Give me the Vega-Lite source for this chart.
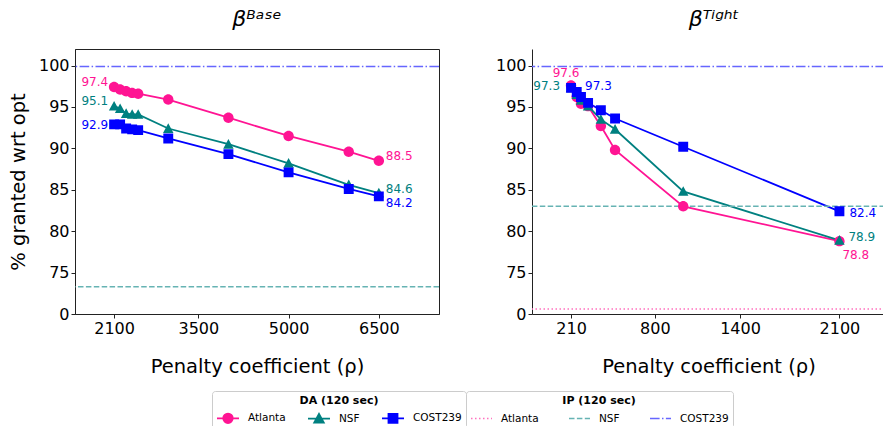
{
  "$schema": "https://vega.github.io/schema/vega-lite/v6.json",
  "padding": {"left": 7, "top": 7, "right": 0, "bottom": 0},
  "background": "white",
  "datasets": {
    "da": [
      {"panel": "Base", "network": "Atlanta", "rho": 2100, "value": 97.4},
      {"panel": "Base", "network": "Atlanta", "rho": 2200, "value": 97.1},
      {"panel": "Base", "network": "Atlanta", "rho": 2300, "value": 96.9},
      {"panel": "Base", "network": "Atlanta", "rho": 2400, "value": 96.7},
      {"panel": "Base", "network": "Atlanta", "rho": 2500, "value": 96.6},
      {"panel": "Base", "network": "Atlanta", "rho": 3000, "value": 95.9},
      {"panel": "Base", "network": "Atlanta", "rho": 4000, "value": 93.7},
      {"panel": "Base", "network": "Atlanta", "rho": 5000, "value": 91.5},
      {"panel": "Base", "network": "Atlanta", "rho": 6000, "value": 89.6},
      {"panel": "Base", "network": "Atlanta", "rho": 6500, "value": 88.5},
      {"panel": "Base", "network": "NSF", "rho": 2100, "value": 95.1},
      {"panel": "Base", "network": "NSF", "rho": 2200, "value": 94.8},
      {"panel": "Base", "network": "NSF", "rho": 2300, "value": 94.2},
      {"panel": "Base", "network": "NSF", "rho": 2400, "value": 94.1},
      {"panel": "Base", "network": "NSF", "rho": 2500, "value": 94.1},
      {"panel": "Base", "network": "NSF", "rho": 3000, "value": 92.4},
      {"panel": "Base", "network": "NSF", "rho": 4000, "value": 90.5},
      {"panel": "Base", "network": "NSF", "rho": 5000, "value": 88.2},
      {"panel": "Base", "network": "NSF", "rho": 6000, "value": 85.6},
      {"panel": "Base", "network": "NSF", "rho": 6500, "value": 84.6},
      {"panel": "Base", "network": "COST239", "rho": 2100, "value": 92.9},
      {"panel": "Base", "network": "COST239", "rho": 2200, "value": 92.9},
      {"panel": "Base", "network": "COST239", "rho": 2300, "value": 92.4},
      {"panel": "Base", "network": "COST239", "rho": 2400, "value": 92.3},
      {"panel": "Base", "network": "COST239", "rho": 2500, "value": 92.2},
      {"panel": "Base", "network": "COST239", "rho": 3000, "value": 91.2},
      {"panel": "Base", "network": "COST239", "rho": 4000, "value": 89.3},
      {"panel": "Base", "network": "COST239", "rho": 5000, "value": 87.1},
      {"panel": "Base", "network": "COST239", "rho": 6000, "value": 85.1},
      {"panel": "Base", "network": "COST239", "rho": 6500, "value": 84.2},
      {"panel": "Tight", "network": "Atlanta", "rho": 210, "value": 97.6},
      {"panel": "Tight", "network": "Atlanta", "rho": 250, "value": 96.2},
      {"panel": "Tight", "network": "Atlanta", "rho": 280, "value": 95.4},
      {"panel": "Tight", "network": "Atlanta", "rho": 330, "value": 95.1},
      {"panel": "Tight", "network": "Atlanta", "rho": 420, "value": 92.7},
      {"panel": "Tight", "network": "Atlanta", "rho": 520, "value": 89.8},
      {"panel": "Tight", "network": "Atlanta", "rho": 1000, "value": 83.0},
      {"panel": "Tight", "network": "Atlanta", "rho": 2100, "value": 78.8},
      {"panel": "Tight", "network": "NSF", "rho": 210, "value": 97.3},
      {"panel": "Tight", "network": "NSF", "rho": 250, "value": 96.5},
      {"panel": "Tight", "network": "NSF", "rho": 280, "value": 95.8},
      {"panel": "Tight", "network": "NSF", "rho": 330, "value": 95.1},
      {"panel": "Tight", "network": "NSF", "rho": 420, "value": 93.5},
      {"panel": "Tight", "network": "NSF", "rho": 520, "value": 92.3},
      {"panel": "Tight", "network": "NSF", "rho": 1000, "value": 84.8},
      {"panel": "Tight", "network": "NSF", "rho": 2100, "value": 78.9},
      {"panel": "Tight", "network": "COST239", "rho": 210, "value": 97.3},
      {"panel": "Tight", "network": "COST239", "rho": 250, "value": 96.8},
      {"panel": "Tight", "network": "COST239", "rho": 280, "value": 96.2},
      {"panel": "Tight", "network": "COST239", "rho": 330, "value": 95.5},
      {"panel": "Tight", "network": "COST239", "rho": 420, "value": 94.6},
      {"panel": "Tight", "network": "COST239", "rho": 520, "value": 93.6},
      {"panel": "Tight", "network": "COST239", "rho": 1000, "value": 90.2},
      {"panel": "Tight", "network": "COST239", "rho": 2100, "value": 82.4}
    ],
    "ip": [
      {"panel": "Base", "ip_network": "NSF", "value": 73.3},
      {"panel": "Base", "ip_network": "COST239", "value": 99.9},
      {"panel": "Tight", "ip_network": "Atlanta", "value": 70.6},
      {"panel": "Tight", "ip_network": "NSF", "value": 83.0},
      {"panel": "Tight", "ip_network": "COST239", "value": 99.9}
    ]
  },
  "config": {
    "font": "DejaVu Sans",
    "view": {"stroke": "#222", "strokeWidth": 1},
    "axis": {"labelFontSize": 16, "titleFontSize": 19.5, "titleFontWeight": "normal", "labelColor": "#000", "titleColor": "#000", "tickColor": "#222", "domainColor": "#222", "grid": false, "tickSize": 4, "labelPadding": 2},
    "title": {"fontSize": 22, "fontWeight": "normal", "fontStyle": "italic", "color": "#000"},
    "legend": {"titleFontSize": 11, "titleFontWeight": "bold", "titleColor": "#000", "titlePadding": 6, "titleAnchor": "middle", "labelFontSize": 10.5, "labelColor": "#000", "strokeColor": "#ccc", "cornerRadius": 3, "padding": 4, "fillColor": "white", "columnPadding": 20, "direction": "horizontal"}
  },
  "spacing": 54,
  "resolve": {"scale": {"color": "shared", "shape": "shared", "stroke": "shared", "strokeDash": "shared"}},
  "hconcat": [
    {
      "width": 364,
      "height": 265,
      "title": {"text": "βᴮᵃˢᵉ", "frame": "group", "anchor": "middle", "baseline": "alphabetic", "offset": 1},
      "layer": [
        {
          "data": {"name": "da"},
          "transform": [{"filter": "datum.panel == 'Base'"}],
          "mark": {"type": "line", "strokeWidth": 1.8},
          "encoding": {
            "x": {"field": "rho", "type": "quantitative", "scale": {"domain": [1450, 7500], "nice": false, "zero": false},
              "axis": {"values": [2100, 3500, 5000, 6500], "title": "Penalty coefficient (ρ)", "titlePadding": 21, "format": "d"}},
            "y": {"field": "value", "type": "quantitative", "scale": {"domain": [70, 102], "nice": false, "zero": false},
              "axis": {"values": [70, 75, 80, 85, 90, 95, 100], "labelExpr": "datum.value == 70 ? '0' : datum.label", "title": "% granted wrt opt", "titlePadding": 10}},
            "color": {"field": "network", "type": "nominal", "scale": {"domain": ["Atlanta", "NSF", "COST239"], "range": ["#FF1493", "#008080", "#0000FF"]},
              "legend": {"title": "DA (120 sec)", "orient": "none", "legendX": 137, "legendY": 342, "labelOffset": 14, "symbolSize": 100, "symbolOffset": 6, "columnPadding": 18,
                "encode": {"symbols": {"update": {"stroke": {"scale": "color", "field": "value"}, "fill": {"scale": "color", "field": "value"}, "strokeWidth": {"value": 1.8}, "opacity": {"value": 1}}}}}}
          }
        },
        {
          "data": {"name": "ip"},
          "transform": [{"filter": "datum.panel == 'Base'"}],
          "mark": {"type": "rule", "strokeWidth": 1.5},
          "encoding": {
            "y": {"field": "value", "type": "quantitative", "scale": {"domain": [70, 102], "nice": false, "zero": false}},
            "stroke": {"field": "ip_network", "type": "nominal", "sort": ["Atlanta", "NSF", "COST239"],
              "scale": {"range": ["#FF72BE", "#66B3B3", "#6666FF"]}, "legend": null},
            "strokeDash": {"field": "ip_network", "type": "nominal", "sort": ["Atlanta", "NSF", "COST239"],
              "scale": {"range": [[1.5, 2.5], [5.5, 2.4], [9.6, 2.4, 1.5, 2.4]]},
              "legend": {"title": "IP (120 sec)", "orient": "none", "legendX": 391, "legendY": 342, "labelOffset": 8, "symbolType": "stroke", "symbolSize": 441, "symbolStrokeWidth": 1.5, "columnPadding": 27, "titlePadding": 1,
                "encode": {"symbols": {"update": {"stroke": {"scale": "stroke", "field": "value"}, "strokeWidth": {"value": 1.5}}}}}}
          }
        },
        {
          "data": {"name": "da"},
          "transform": [{"filter": "datum.panel == 'Base'"}],
          "mark": {"type": "point", "filled": true, "size": 121, "opacity": 1},
          "encoding": {
            "x": {"field": "rho", "type": "quantitative", "scale": {"domain": [1450, 7500], "nice": false, "zero": false}},
            "y": {"field": "value", "type": "quantitative", "scale": {"domain": [70, 102], "nice": false, "zero": false}},
            "color": {"field": "network", "type": "nominal", "scale": {"domain": ["Atlanta", "NSF", "COST239"], "range": ["#FF1493", "#008080", "#0000FF"]},
              "legend": {"title": "DA (120 sec)", "orient": "none", "legendX": 137, "legendY": 342, "labelOffset": 14, "symbolSize": 100, "symbolOffset": 6, "columnPadding": 18,
                "encode": {"symbols": {"update": {"stroke": {"scale": "color", "field": "value"}, "fill": {"scale": "color", "field": "value"}, "strokeWidth": {"value": 1.8}, "opacity": {"value": 1}}}}}},
            "shape": {"field": "network", "type": "nominal", "scale": {"domain": ["Atlanta", "NSF", "COST239"], "range": ["M-2.2,0H2.2M0.95,0A0.95,0.95,0,1,1,-0.95,0A0.95,0.95,0,1,1,0.95,0Z", "M-2.2,0H2.2M0,-0.95L0.95,0.8L-0.95,0.8Z", "M-2.2,0H2.2M-0.9,-0.9H0.9V0.9H-0.9Z"]},
              "legend": {"title": "DA (120 sec)", "orient": "none", "legendX": 137, "legendY": 342, "labelOffset": 14, "symbolSize": 100, "symbolOffset": 6, "columnPadding": 18,
                "encode": {"symbols": {"update": {"stroke": {"scale": "color", "field": "value"}, "fill": {"scale": "color", "field": "value"}, "strokeWidth": {"value": 1.8}, "opacity": {"value": 1}}}}}}
          }
        },
        {
          "data": {"name": "da"},
          "transform": [{"filter": "datum.panel == 'Base' && datum.network == 'Atlanta' && datum.rho == 2100"}],
          "mark": {"type": "text", "align": "right", "baseline": "middle", "dx": -6, "dy": -5, "fontSize": 12, "color": "#FF1493"},
          "encoding": {
            "x": {"field": "rho", "type": "quantitative", "scale": {"domain": [1450, 7500], "nice": false, "zero": false}},
            "y": {"field": "value", "type": "quantitative", "scale": {"domain": [70, 102], "nice": false, "zero": false}},
            "text": {"field": "value", "type": "quantitative", "format": ".1f"}
          }
        },
        {
          "data": {"name": "da"},
          "transform": [{"filter": "datum.panel == 'Base' && datum.network == 'NSF' && datum.rho == 2100"}],
          "mark": {"type": "text", "align": "right", "baseline": "middle", "dx": -6, "dy": -5, "fontSize": 12, "color": "#008080"},
          "encoding": {
            "x": {"field": "rho", "type": "quantitative", "scale": {"domain": [1450, 7500], "nice": false, "zero": false}},
            "y": {"field": "value", "type": "quantitative", "scale": {"domain": [70, 102], "nice": false, "zero": false}},
            "text": {"field": "value", "type": "quantitative", "format": ".1f"}
          }
        },
        {
          "data": {"name": "da"},
          "transform": [{"filter": "datum.panel == 'Base' && datum.network == 'COST239' && datum.rho == 2100"}],
          "mark": {"type": "text", "align": "right", "baseline": "middle", "dx": -6, "dy": 1, "fontSize": 12, "color": "#0000FF"},
          "encoding": {
            "x": {"field": "rho", "type": "quantitative", "scale": {"domain": [1450, 7500], "nice": false, "zero": false}},
            "y": {"field": "value", "type": "quantitative", "scale": {"domain": [70, 102], "nice": false, "zero": false}},
            "text": {"field": "value", "type": "quantitative", "format": ".1f"}
          }
        },
        {
          "data": {"name": "da"},
          "transform": [{"filter": "datum.panel == 'Base' && datum.network == 'Atlanta' && datum.rho == 6500"}],
          "mark": {"type": "text", "align": "left", "baseline": "middle", "dx": 7, "dy": -5, "fontSize": 12, "color": "#FF1493"},
          "encoding": {
            "x": {"field": "rho", "type": "quantitative", "scale": {"domain": [1450, 7500], "nice": false, "zero": false}},
            "y": {"field": "value", "type": "quantitative", "scale": {"domain": [70, 102], "nice": false, "zero": false}},
            "text": {"field": "value", "type": "quantitative", "format": ".1f"}
          }
        },
        {
          "data": {"name": "da"},
          "transform": [{"filter": "datum.panel == 'Base' && datum.network == 'NSF' && datum.rho == 6500"}],
          "mark": {"type": "text", "align": "left", "baseline": "middle", "dx": 7, "dy": -4.5, "fontSize": 12, "color": "#008080"},
          "encoding": {
            "x": {"field": "rho", "type": "quantitative", "scale": {"domain": [1450, 7500], "nice": false, "zero": false}},
            "y": {"field": "value", "type": "quantitative", "scale": {"domain": [70, 102], "nice": false, "zero": false}},
            "text": {"field": "value", "type": "quantitative", "format": ".1f"}
          }
        },
        {
          "data": {"name": "da"},
          "transform": [{"filter": "datum.panel == 'Base' && datum.network == 'COST239' && datum.rho == 6500"}],
          "mark": {"type": "text", "align": "left", "baseline": "middle", "dx": 7, "dy": 7, "fontSize": 12, "color": "#0000FF"},
          "encoding": {
            "x": {"field": "rho", "type": "quantitative", "scale": {"domain": [1450, 7500], "nice": false, "zero": false}},
            "y": {"field": "value", "type": "quantitative", "scale": {"domain": [70, 102], "nice": false, "zero": false}},
            "text": {"field": "value", "type": "quantitative", "format": ".1f"}
          }
        }
      ]
    },
    {
      "width": 353,
      "height": 265,
      "view": {"stroke": null},
      "title": {"text": "βᵀⁱᵍʰᵗ", "frame": "group", "anchor": "middle", "baseline": "alphabetic", "offset": 1, "dx": 5.5},
      "layer": [
        {
          "data": {"name": "da"},
          "transform": [{"filter": "datum.panel == 'Tight'"}],
          "mark": {"type": "line", "strokeWidth": 1.8},
          "encoding": {
            "x": {"field": "rho", "type": "quantitative", "scale": {"domain": [-65, 2421], "nice": false, "zero": false},
              "axis": {"values": [210, 800, 1400, 2100], "title": "Penalty coefficient (ρ)", "titlePadding": 21, "format": "d"}},
            "y": {"field": "value", "type": "quantitative", "scale": {"domain": [70, 102], "nice": false, "zero": false},
              "axis": {"values": [70, 75, 80, 85, 90, 95, 100], "labelExpr": "datum.value == 70 ? '0' : datum.label", "title": null}},
            "color": {"field": "network", "type": "nominal", "scale": {"domain": ["Atlanta", "NSF", "COST239"], "range": ["#FF1493", "#008080", "#0000FF"]},
              "legend": {"title": "DA (120 sec)", "orient": "none", "legendX": 137, "legendY": 342, "labelOffset": 14, "symbolSize": 100, "symbolOffset": 6, "columnPadding": 18,
                "encode": {"symbols": {"update": {"stroke": {"scale": "color", "field": "value"}, "fill": {"scale": "color", "field": "value"}, "strokeWidth": {"value": 1.8}, "opacity": {"value": 1}}}}}}
          }
        },
        {
          "data": {"name": "ip"},
          "transform": [{"filter": "datum.panel == 'Tight'"}],
          "mark": {"type": "rule", "strokeWidth": 1.5},
          "encoding": {
            "y": {"field": "value", "type": "quantitative", "scale": {"domain": [70, 102], "nice": false, "zero": false}},
            "stroke": {"field": "ip_network", "type": "nominal", "sort": ["Atlanta", "NSF", "COST239"],
              "scale": {"range": ["#FF72BE", "#66B3B3", "#6666FF"]}, "legend": null},
            "strokeDash": {"field": "ip_network", "type": "nominal", "sort": ["Atlanta", "NSF", "COST239"],
              "scale": {"range": [[1.5, 2.5], [5.5, 2.4], [9.6, 2.4, 1.5, 2.4]]},
              "legend": {"title": "IP (120 sec)", "orient": "none", "legendX": 391, "legendY": 342, "labelOffset": 8, "symbolType": "stroke", "symbolSize": 441, "symbolStrokeWidth": 1.5, "columnPadding": 27, "titlePadding": 1,
                "encode": {"symbols": {"update": {"stroke": {"scale": "stroke", "field": "value"}, "strokeWidth": {"value": 1.5}}}}}}
          }
        },
        {
          "mark": {"type": "rule", "color": "#222", "strokeWidth": 1},
          "encoding": {"y": {"datum": 102, "type": "quantitative", "scale": {"domain": [70, 102], "nice": false, "zero": false}}}
        },
        {
          "data": {"name": "da"},
          "transform": [{"filter": "datum.panel == 'Tight'"}],
          "mark": {"type": "point", "filled": true, "size": 121, "opacity": 1},
          "encoding": {
            "x": {"field": "rho", "type": "quantitative", "scale": {"domain": [-65, 2421], "nice": false, "zero": false}},
            "y": {"field": "value", "type": "quantitative", "scale": {"domain": [70, 102], "nice": false, "zero": false}},
            "color": {"field": "network", "type": "nominal", "scale": {"domain": ["Atlanta", "NSF", "COST239"], "range": ["#FF1493", "#008080", "#0000FF"]},
              "legend": {"title": "DA (120 sec)", "orient": "none", "legendX": 137, "legendY": 342, "labelOffset": 14, "symbolSize": 100, "symbolOffset": 6, "columnPadding": 18,
                "encode": {"symbols": {"update": {"stroke": {"scale": "color", "field": "value"}, "fill": {"scale": "color", "field": "value"}, "strokeWidth": {"value": 1.8}, "opacity": {"value": 1}}}}}},
            "shape": {"field": "network", "type": "nominal", "scale": {"domain": ["Atlanta", "NSF", "COST239"], "range": ["M-2.2,0H2.2M0.95,0A0.95,0.95,0,1,1,-0.95,0A0.95,0.95,0,1,1,0.95,0Z", "M-2.2,0H2.2M0,-0.95L0.95,0.8L-0.95,0.8Z", "M-2.2,0H2.2M-0.9,-0.9H0.9V0.9H-0.9Z"]},
              "legend": {"title": "DA (120 sec)", "orient": "none", "legendX": 137, "legendY": 342, "labelOffset": 14, "symbolSize": 100, "symbolOffset": 6, "columnPadding": 18,
                "encode": {"symbols": {"update": {"stroke": {"scale": "color", "field": "value"}, "fill": {"scale": "color", "field": "value"}, "strokeWidth": {"value": 1.8}, "opacity": {"value": 1}}}}}}
          }
        },
        {
          "data": {"name": "da"},
          "transform": [{"filter": "datum.panel == 'Tight' && datum.network == 'Atlanta' && datum.rho == 210"}],
          "mark": {"type": "text", "align": "center", "baseline": "middle", "dx": -5, "dy": -12, "fontSize": 12, "color": "#FF1493"},
          "encoding": {
            "x": {"field": "rho", "type": "quantitative", "scale": {"domain": [-65, 2421], "nice": false, "zero": false}},
            "y": {"field": "value", "type": "quantitative", "scale": {"domain": [70, 102], "nice": false, "zero": false}},
            "text": {"field": "value", "type": "quantitative", "format": ".1f"}
          }
        },
        {
          "data": {"name": "da"},
          "transform": [{"filter": "datum.panel == 'Tight' && datum.network == 'NSF' && datum.rho == 210"}],
          "mark": {"type": "text", "align": "right", "baseline": "middle", "dx": -11, "dy": -2, "fontSize": 12, "color": "#008080"},
          "encoding": {
            "x": {"field": "rho", "type": "quantitative", "scale": {"domain": [-65, 2421], "nice": false, "zero": false}},
            "y": {"field": "value", "type": "quantitative", "scale": {"domain": [70, 102], "nice": false, "zero": false}},
            "text": {"field": "value", "type": "quantitative", "format": ".1f"}
          }
        },
        {
          "data": {"name": "da"},
          "transform": [{"filter": "datum.panel == 'Tight' && datum.network == 'COST239' && datum.rho == 210"}],
          "mark": {"type": "text", "align": "left", "baseline": "middle", "dx": 14, "dy": -2, "fontSize": 12, "color": "#0000FF"},
          "encoding": {
            "x": {"field": "rho", "type": "quantitative", "scale": {"domain": [-65, 2421], "nice": false, "zero": false}},
            "y": {"field": "value", "type": "quantitative", "scale": {"domain": [70, 102], "nice": false, "zero": false}},
            "text": {"field": "value", "type": "quantitative", "format": ".1f"}
          }
        },
        {
          "data": {"name": "da"},
          "transform": [{"filter": "datum.panel == 'Tight' && datum.network == 'COST239' && datum.rho == 2100"}],
          "mark": {"type": "text", "align": "left", "baseline": "middle", "dx": 10, "dy": 2, "fontSize": 12, "color": "#0000FF"},
          "encoding": {
            "x": {"field": "rho", "type": "quantitative", "scale": {"domain": [-65, 2421], "nice": false, "zero": false}},
            "y": {"field": "value", "type": "quantitative", "scale": {"domain": [70, 102], "nice": false, "zero": false}},
            "text": {"field": "value", "type": "quantitative", "format": ".1f"}
          }
        },
        {
          "data": {"name": "da"},
          "transform": [{"filter": "datum.panel == 'Tight' && datum.network == 'NSF' && datum.rho == 2100"}],
          "mark": {"type": "text", "align": "left", "baseline": "middle", "dx": 9, "dy": -3.5, "fontSize": 12, "color": "#008080"},
          "encoding": {
            "x": {"field": "rho", "type": "quantitative", "scale": {"domain": [-65, 2421], "nice": false, "zero": false}},
            "y": {"field": "value", "type": "quantitative", "scale": {"domain": [70, 102], "nice": false, "zero": false}},
            "text": {"field": "value", "type": "quantitative", "format": ".1f"}
          }
        },
        {
          "data": {"name": "da"},
          "transform": [{"filter": "datum.panel == 'Tight' && datum.network == 'Atlanta' && datum.rho == 2100"}],
          "mark": {"type": "text", "align": "left", "baseline": "middle", "dx": 3, "dy": 14, "fontSize": 12, "color": "#FF1493"},
          "encoding": {
            "x": {"field": "rho", "type": "quantitative", "scale": {"domain": [-65, 2421], "nice": false, "zero": false}},
            "y": {"field": "value", "type": "quantitative", "scale": {"domain": [70, 102], "nice": false, "zero": false}},
            "text": {"field": "value", "type": "quantitative", "format": ".1f"}
          }
        }
      ]
    }
  ]
}
